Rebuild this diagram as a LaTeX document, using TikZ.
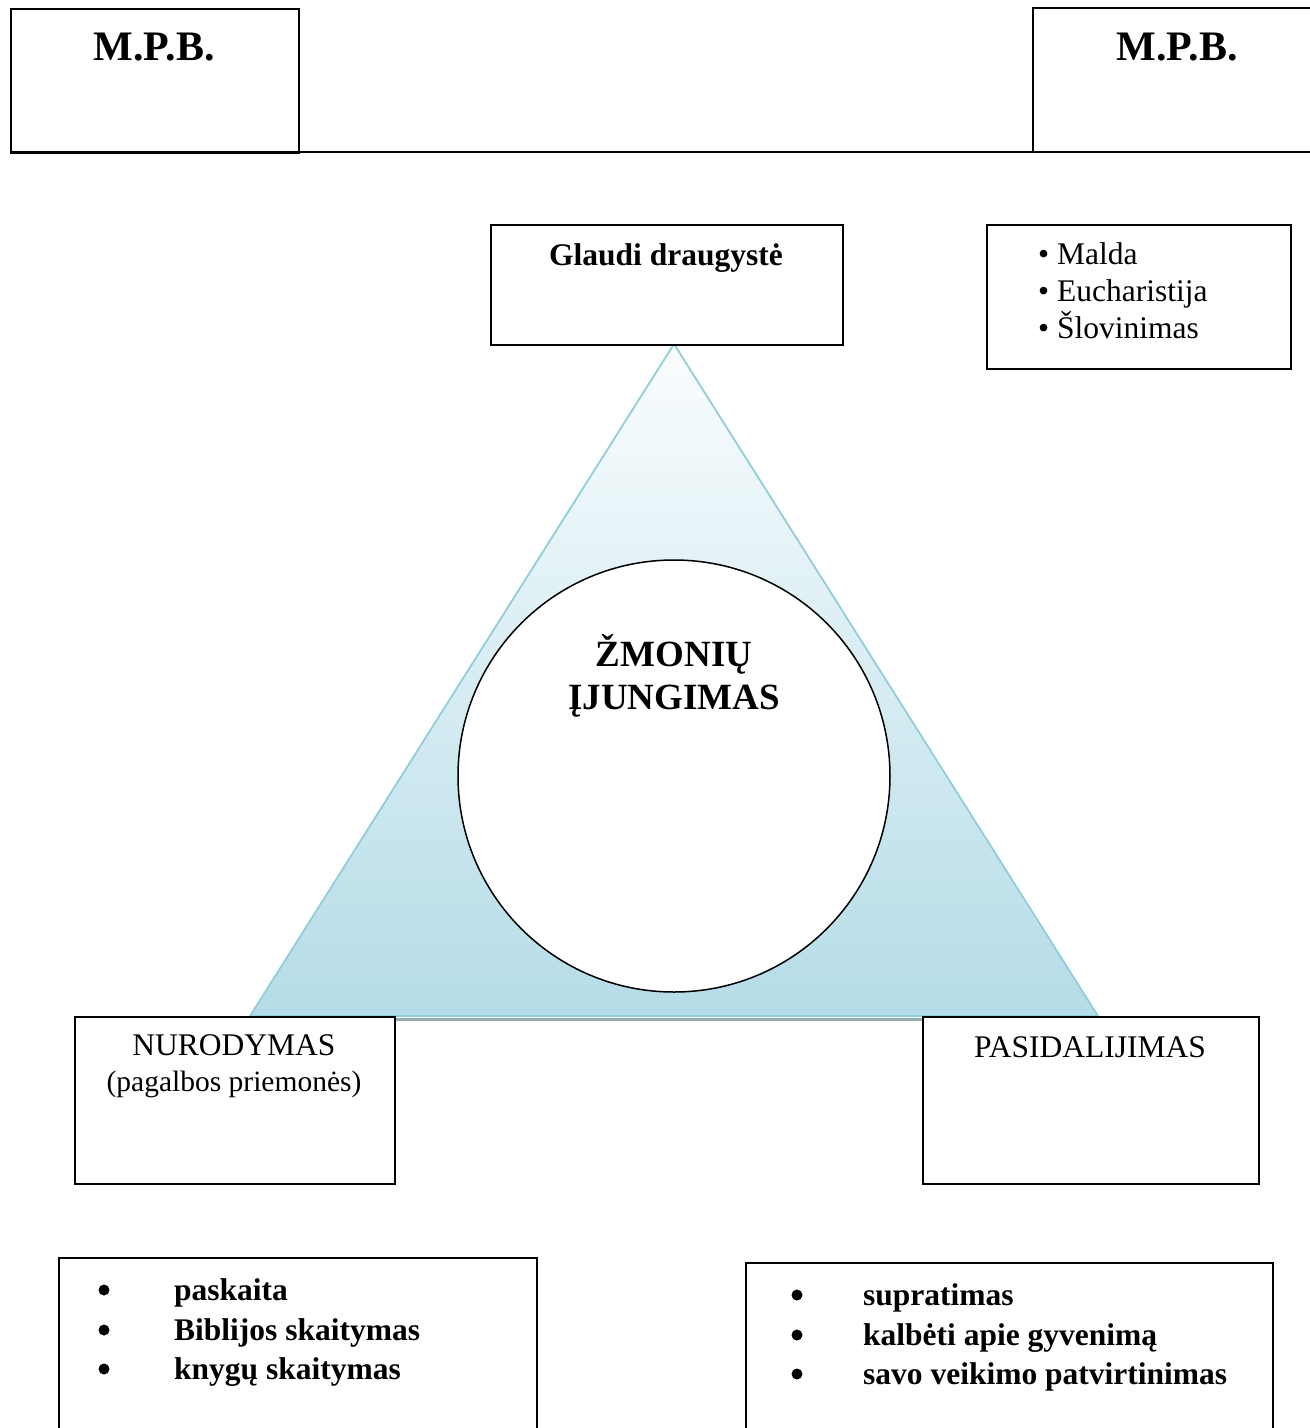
\documentclass[tikz,border=0pt]{standalone}
\usepackage{fontspec}
\setmainfont{Liberation Serif}
\usetikzlibrary{calc}
\definecolor{triedge}{RGB}{146,205,220}
\definecolor{tritop}{RGB}{250,253,254}
\definecolor{tribot}{RGB}{181,220,231}
\definecolor{trishadow}{RGB}{147,173,181}
\begin{document}
\begin{tikzpicture}[x=1pt,y=-1pt,
  frame/.style={draw=black,line width=1.6pt,fill=white,inner sep=0pt,anchor=north west},
  edge/.style={draw=black,line width=1.6pt},
  txt/.style={inner sep=0pt,anchor=base,font=\fontsize{31.5}{37}\selectfont},
  btxt/.style={inner sep=0pt,anchor=base,font=\fontsize{31.5}{37}\selectfont\bfseries},
  ltxt/.style={inner sep=0pt,anchor=base west,font=\fontsize{31.5}{37}\selectfont\bfseries},
  bul/.style={circle,fill=black,inner sep=0pt,minimum size=11pt}]
\useasboundingbox (0,0) rectangle (1310,1428);
\fill[white] (0,0) rectangle (1310,1428);

% top bar
\node[frame,minimum width=288pt,minimum height=144pt] (mpbL) at (10,8) {};
\coordinate (trA) at (1310,8);
\coordinate (trB) at (1033,8);
\coordinate (trC) at (1033,152);
\coordinate (barL) at (10,152);
\coordinate (barR) at (1310,152);
\draw[edge] (trA) -- (trB) -- (trC);
\draw[edge] (barL) -- (barR);
\node[btxt,font=\fontsize{42}{48}\selectfont\bfseries] (mpbLt) at (154,60) {M.P.B.};
\node[btxt,font=\fontsize{42}{48}\selectfont\bfseries] (mpbRt) at (1177,60) {M.P.B.};

% triangle
\coordinate (apex) at (674,344);
\coordinate (bl) at (250,1016);
\coordinate (br) at (1098,1016);
\draw[trishadow,line width=3.5pt] ($(bl)+(0,3.5)$) -- ($(br)+(0,3.5)$);
\path[top color=tritop,bottom color=tribot,draw=triedge,line width=1.8pt,line join=miter]
  (apex) -- (br) -- (bl) -- cycle;
\node[circle,draw=black,line width=1.5pt,fill=white,minimum size=432pt,inner sep=0pt] (circ) at (674,776) {};
\node[btxt,font=\fontsize{37}{43}\selectfont\bfseries] (zm1) at (674,666) {ŽMONIŲ};
\node[btxt,font=\fontsize{37}{43}\selectfont\bfseries] (zm2) at (674,709) {ĮJUNGIMAS};

% Glaudi draugyste
\node[frame,minimum width=352pt,minimum height=120pt] (glaudi) at (490,224) {};
\node[btxt] (glaudit) at (666,265) {Glaudi draugystė};

% Malda box
\node[frame,minimum width=304pt,minimum height=144pt] (malda) at (986,224) {};
\node[txt,anchor=base west] (m1) at (1038,264) {\textbullet\ Malda};
\node[txt,anchor=base west] (m2) at (1038,301) {\textbullet\ Eucharistija};
\node[txt,anchor=base west] (m3) at (1038,338) {\textbullet\ Šlovinimas};

% NURODYMAS
\node[frame,minimum width=320pt,minimum height=167pt] (nur) at (74,1016) {};
\node[txt] (nur1) at (234,1055) {NURODYMAS};
\node[txt,font=\fontsize{29.5}{35}\selectfont] (nur2) at (234,1091) {(pagalbos priemonės)};

% PASIDALIJIMAS
\node[frame,minimum width=336pt,minimum height=167pt] (pas) at (922,1016) {};
\node[txt] (pas1) at (1090,1057) {PASIDALIJIMAS};

% bottom-left list box (open at bottom)
\coordinate (la) at (59,1430);
\coordinate (lb) at (59,1258);
\coordinate (lc) at (537,1258);
\coordinate (ld) at (537,1430);
\draw[edge] (la) -- (lb) -- (lc) -- (ld);
\node[bul] (lb1) at (104,1290) {};
\node[bul] (lb2) at (104,1330) {};
\node[bul] (lb3) at (104,1369) {};
\node[ltxt] (lt1) at (174,1300) {paskaita};
\node[ltxt] (lt2) at (174,1340) {Biblijos skaitymas};
\node[ltxt] (lt3) at (174,1379) {knygų skaitymas};

% bottom-right list box (open at bottom)
\coordinate (ra) at (746,1430);
\coordinate (rb) at (746,1263);
\coordinate (rc) at (1273,1263);
\coordinate (rd) at (1273,1430);
\draw[edge] (ra) -- (rb) -- (rc) -- (rd);
\node[bul] (rb1) at (797,1295) {};
\node[bul] (rb2) at (797,1335) {};
\node[bul] (rb3) at (797,1374) {};
\node[ltxt] (rt1) at (863,1305) {supratimas};
\node[ltxt] (rt2) at (863,1345) {kalbėti apie gyvenimą};
\node[ltxt] (rt3) at (863,1384) {savo veikimo patvirtinimas};
\end{tikzpicture}
\end{document}
